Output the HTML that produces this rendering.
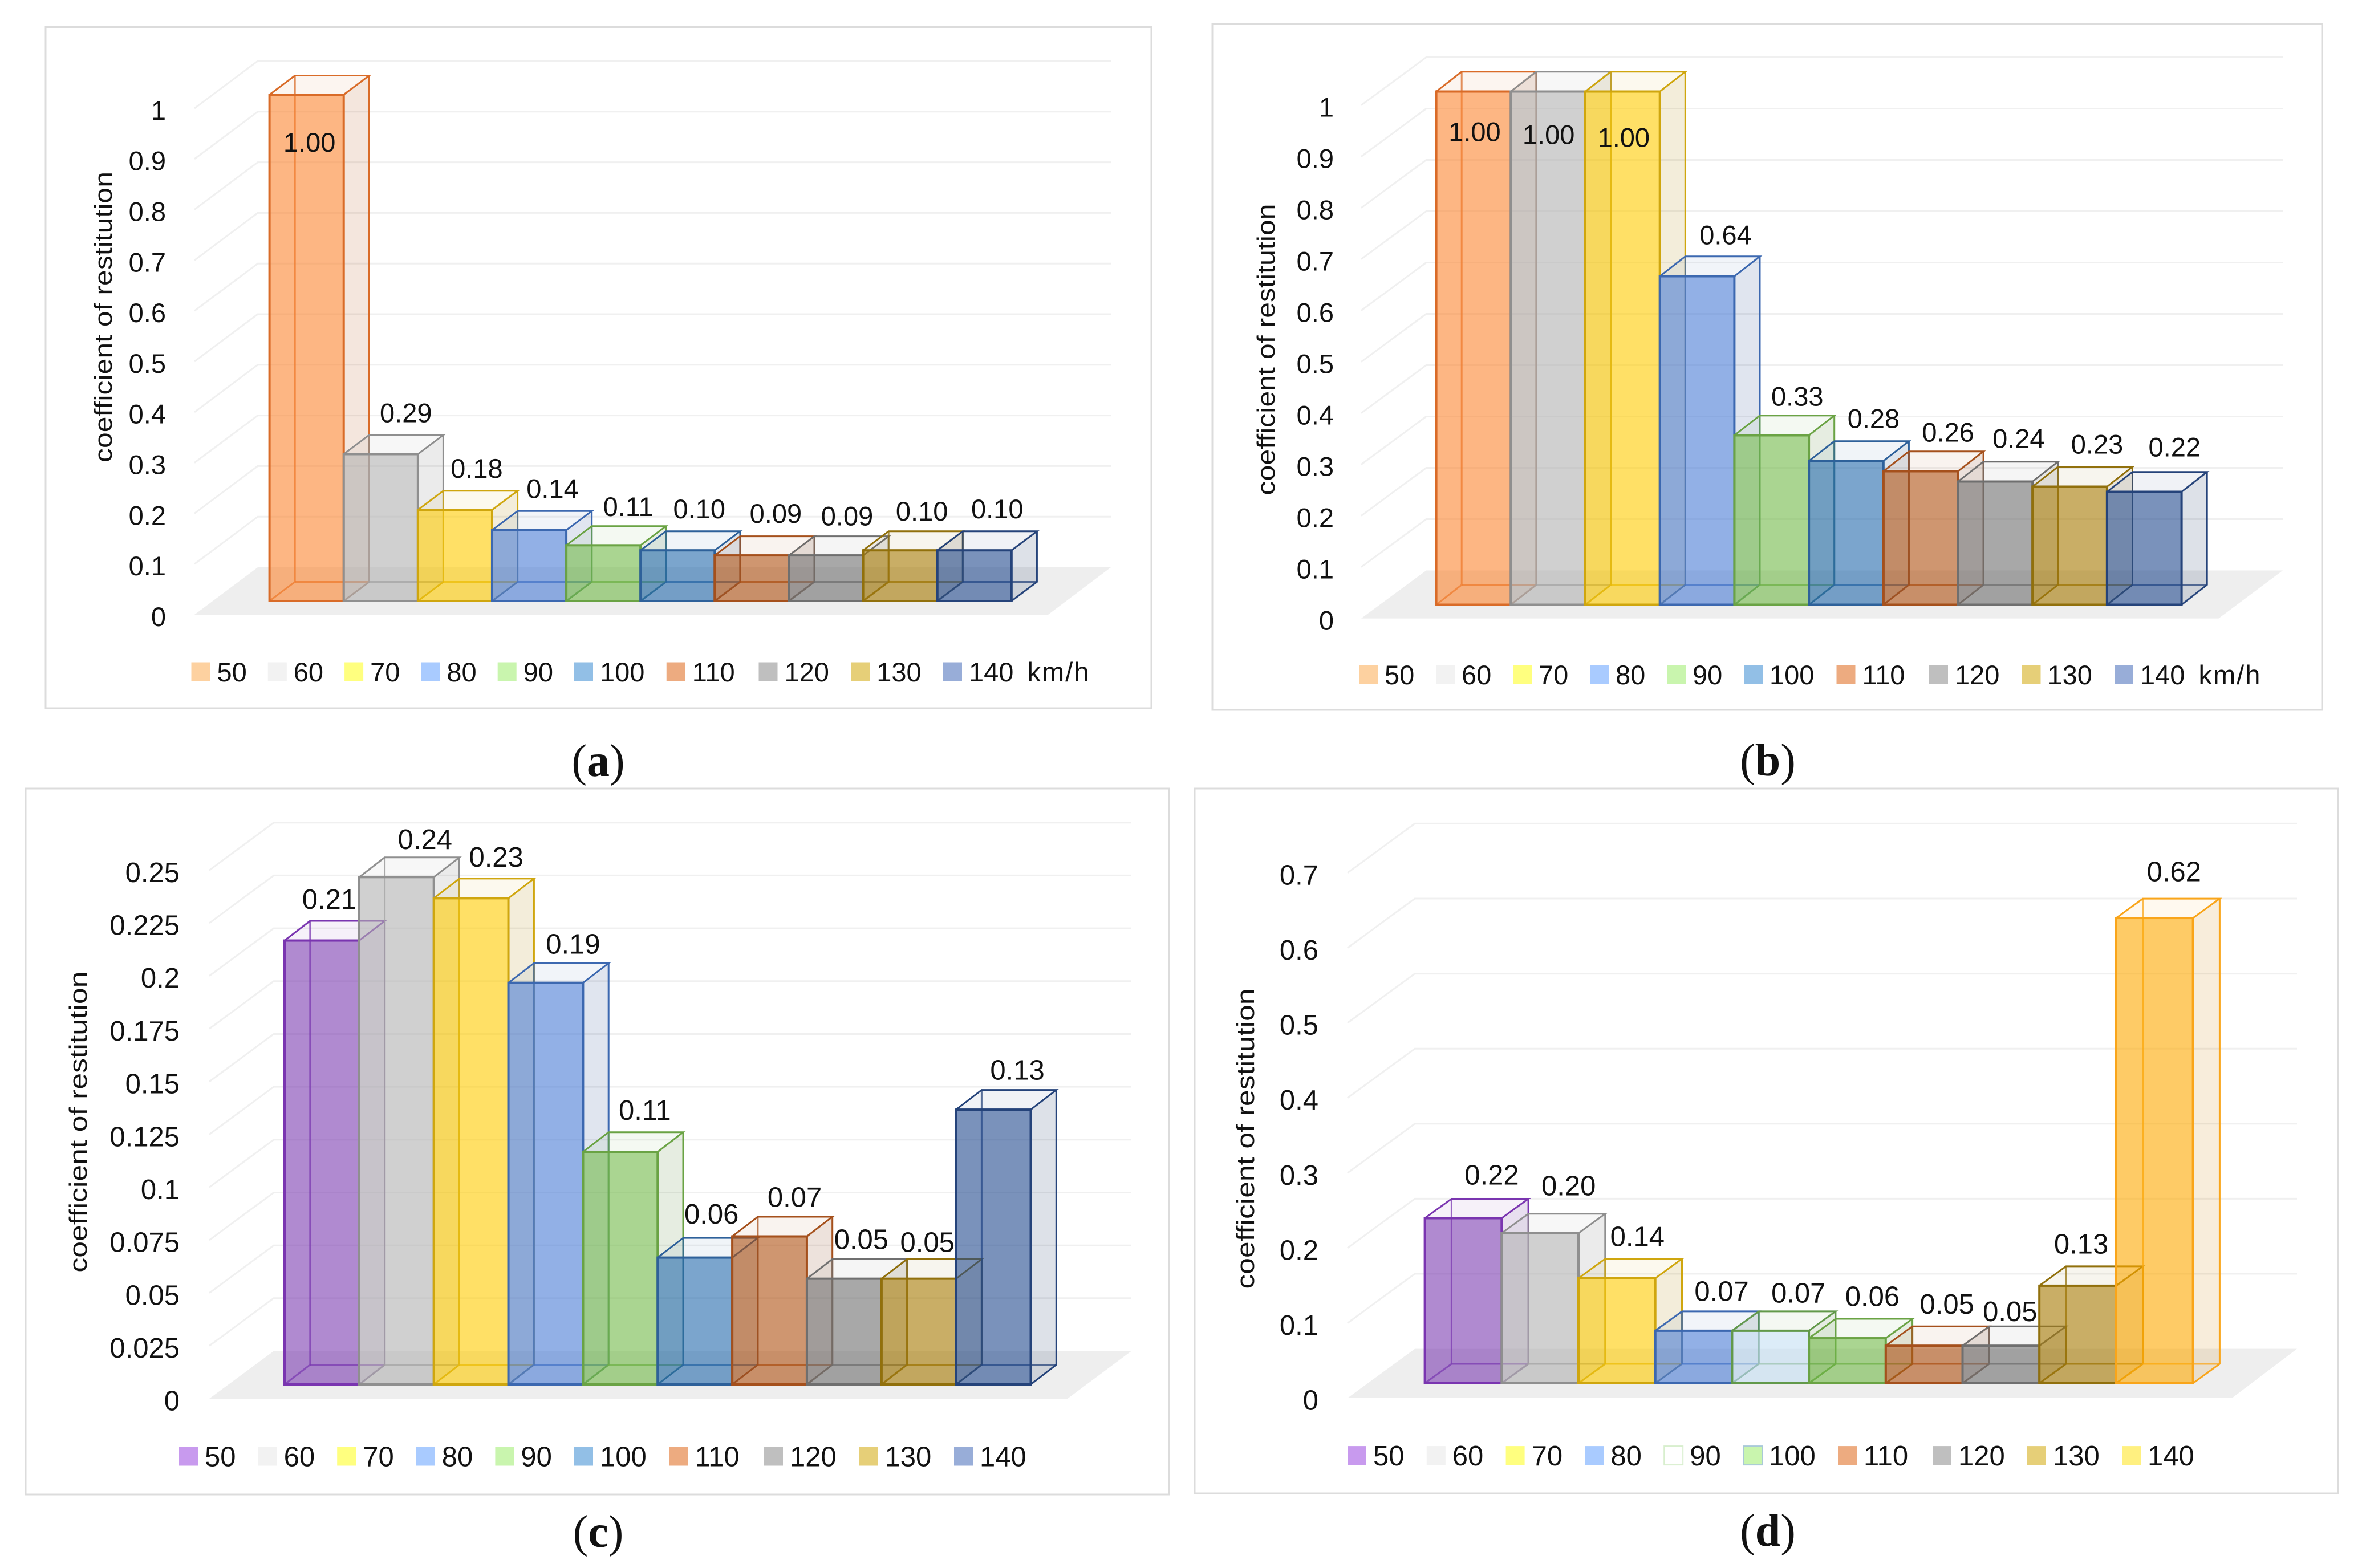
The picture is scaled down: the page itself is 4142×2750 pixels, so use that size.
<!DOCTYPE html>
<html lang="en">
<head>
<meta charset="utf-8">
<title>Coefficient of restitution by speed</title>
<style>
html,body{margin:0;padding:0;background:#fff;}
svg{display:block;}
text{font-family:"Liberation Sans",sans-serif;fill:#111;}
.cap,.cap tspan{font-family:"Liberation Serif",serif;}
</style>
</head>
<body>
<svg id="figure" xmlns="http://www.w3.org/2000/svg" width="4142" height="2750" viewBox="0 0 4142 2750"></svg>
<script>
const categories = ['50','60','70','80','90','100','110','120','130','140'];
const valuesA = [1.00,0.29,0.18,0.14,0.11,0.10,0.09,0.09,0.10,0.10];
const valuesB = [1.00,1.00,1.00,0.64,0.33,0.28,0.26,0.24,0.23,0.22];
const valuesC = [0.21,0.24,0.23,0.19,0.11,0.06,0.07,0.05,0.05,0.13];
const valuesD = [0.22,0.20,0.14,0.07,0.07,0.06,0.05,0.05,0.13,0.62];
const ticksAB = ['0','0.1','0.2','0.3','0.4','0.5','0.6','0.7','0.8','0.9','1'];
const ticksC = ['0','0.025','0.05','0.075','0.1','0.125','0.15','0.175','0.2','0.225','0.25'];
const ticksD = ['0','0.1','0.2','0.3','0.4','0.5','0.6','0.7'];
const valueLabelsA = ['1.00','0.29','0.18','0.14','0.11','0.10','0.09','0.09','0.10','0.10'];
const valueLabelsB = ['1.00','1.00','1.00','0.64','0.33','0.28','0.26','0.24','0.23','0.22'];
const valueLabelsC = ['0.21','0.24','0.23','0.19','0.11','0.06','0.07','0.05','0.05','0.13'];
const valueLabelsD = ['0.22','0.20','0.14','0.07','0.07','0.06','0.05','0.05','0.13','0.62'];

/* styling: front colour, edge colour, legend colour */
const C = {
  orange:['#fc8530','#d96b28','#fdd1a0'], gray:['#b1b1b1','#8f8f8f','#f2f2f2'],
  yellow:['#ffcb00','#cfa60e','#ffff7f'], blue:['#497bd5','#3c68b0','#a9cbff'],
  green:['#71b948','#6aa344','#c9f5ae'], steel:['#2369ac','#2e619a','#92bfe6'],
  rust:['#af5011','#a5501c','#edab80'], dgray:['#6e6e6e','#6f6f6f','#bfbfbf'],
  gold:['#a57800','#91700c','#e6cf78'], navy:['#21498e','#25437a','#98add8'],
  purple:['#7b3cb1','#7a35b0','#c89aee'], ice:['#c5dff3','#62994a','#ffffff'],
  amber:['#fea800','#f9a51a','#fff080'], dgreen:['#71b948','#6aa344','#c9f5ae']
};
const paletteAB = [C.orange,C.gray,C.yellow,C.blue,C.green,C.steel,C.rust,C.dgray,C.gold,C.navy];
const paletteC = [C.purple,C.gray,C.yellow,C.blue,C.green,C.steel,C.rust,C.dgray,C.gold,C.navy];
const paletteD = [C.purple,C.gray,C.yellow,C.blue,C.ice,C.dgreen,C.rust,C.dgray,C.gold,C.amber];

/* panel geometry and data-label nudges (layout only, offsets from each bar's computed top) */
const panels = [
 {id:'a',values:valuesA,labels:valueLabelsA,ticks:ticksAB,pal:paletteAB,box:[80,47.5,2019,1242],backL:452,backR:1948,frontL:341,frontR:1838,floorF:1078,floorB:995,base:1054,x0:472.6,w:130.12,dX:44.6,dY:33.5,unit:888,tickR:291,tx:181,ty:556,tl:510,lx:335.5,ls2:134.3,ls3:161.75,ly:1178,fs:47,cap:[1049,1336],suffix:true,
  ndx:[5,44,38,41,43.5,38,42,37,38,40],ndy:[83,-73,-73,-73,-68,-73,-74,-69.5,-69,-73]},
 {id:'b',values:valuesB,labels:valueLabelsB,ticks:ticksAB,pal:paletteAB,box:[2126,42,4072,1245],backL:2501,backR:4003,frontL:2387,frontR:3890.6,floorF:1084.6,floorB:1000.5,base:1060.5,x0:2518.6,w:130.7,dX:44.6,dY:34.8,unit:900,tickR:2339,tx:2220,ty:613,tl:511,lx:2383,ls2:135,ls3:162.5,ly:1183,fs:47,cap:[3100,1335],suffix:true,
  ndx:[2,1,2,50,45,48,48,41,48,53],ndy:[70,75,80,-73,-69,-75,-69,-76,-75,-79]},
 {id:'c',values:valuesC,labels:valueLabelsC,ticks:ticksC,pal:paletteC,box:[45,1383,2050,2621],backL:480,backR:1984,frontL:367,frontR:1872,floorF:2453,floorB:2369.5,base:2428,x0:499,w:130.85,dX:44.8,dY:34.5,unit:3707,tickR:315,tx:137,ty:1967.6,tl:528,lx:314,ls2:138.6,ls3:166.5,ly:2554,fs:49,cap:[1049,2688],suffix:false,
  ndx:[13,50,44,48,43,29,44,30,15,42],ndy:[-73,-67,-73,-69,-74,-77,-69.5,-70,-65,-70]},
 {id:'d',values:valuesD,labels:valueLabelsD,ticks:ticksD,pal:paletteD,box:[2095,1383,4100,2619],backL:2481,backR:4028,frontL:2363,frontR:3914,floorF:2452,floorB:2365.6,base:2426,x0:2498.6,w:134.7,dX:46.8,dY:34,unit:1316,tickR:2312,tx:2184,ty:1997,tl:527,lx:2363,ls2:138.8,ls3:166,ly:2552.6,fs:49,cap:[3100,2686],suffix:false,
  ndx:[50,50,36,49,49,44,40,16,6,34],ndy:[-76.5,-84,-74,-70,-67,-74,-74,-61,-74,-82]}
];

const NS = 'http://www.w3.org/2000/svg';
const root = document.getElementById('figure');
function mk(tag, attrs, parent, txt){
  const e = document.createElementNS(NS, tag);
  for (const k in attrs) e.setAttribute(k, attrs[k]);
  if (txt !== undefined) e.textContent = txt;
  parent.appendChild(e);
  return e;
}
function poly(pts){ return pts.map(p => p[0].toFixed(1)+','+p[1].toFixed(1)).join(' '); }

panels.forEach(p => {
  const yBar = v => p.base - v * p.unit;
  const yFront = v => p.floorF - v * p.unit;
  const yBack = v => p.floorB - v * p.unit;
  const xBar = i => p.x0 + i * p.w;

  const g = mk('g', {}, root);
  
  

  const b = p.box;
  const frame = mk('rect', {x:b[0],y:b[1],width:b[2]-b[0],height:b[3]-b[1],fill:'#fff',stroke:'#dcdcdc','stroke-width':3}, g);
  
  

  const floor = mk('polygon', {points:poly([[p.frontL,p.floorF],[p.backL,p.floorB],[p.backR,p.floorB],[p.frontR,p.floorF]]),fill:'#eeeeee'}, g);
  
  

  p.ticks.forEach(t => {
    const v = Number(t);
    if (v > 0) {
      const gl = mk('polyline', {points:poly([[p.frontL,yFront(v)],[p.backL,yBack(v)],[p.backR,yBack(v)]]),fill:'none',stroke:'#f0f0f0','stroke-width':3}, g);
      
      
    }
    const tl = mk('text', {x:p.tickR,y:yFront(v)+3+p.fs*0.36,'text-anchor':'end','font-size':p.fs}, g, t);
    
    
  });

  const title = mk('text', {transform:'translate('+p.tx+','+p.ty+') rotate(-90)','text-anchor':'middle',y:15,'font-size':44,textLength:p.tl,lengthAdjust:'spacingAndGlyphs'}, g, 'coefficient of restitution');
  
  

  p.values.forEach((v, i) => {
    const col = p.pal[i];
    const x = xBar(i), x2 = x + p.w, yb = p.base, yt = yBar(v);
    const dx = p.dX, dy = p.dY;
    const bar = mk('g', {}, g);
    
    

    // receding faces
    mk('polygon', {points:poly([[x2,yt],[x2+dx,yt-dy],[x2+dx,yb-dy],[x2,yb]]),fill:'#777','fill-opacity':.05}, bar);
    mk('polygon', {points:poly([[x2,yt],[x2+dx,yt-dy],[x2+dx,yb-dy],[x2,yb]]),fill:col[1],'fill-opacity':.13}, bar);
    mk('polygon', {points:poly([[x,yt],[x+dx,yt-dy],[x2+dx,yt-dy],[x2,yt]]),fill:col[1],'fill-opacity':.07}, bar);
    // hidden edges seen through the front
    mk('polyline', {points:poly([[x,yb],[x+dx,yb-dy],[x+dx,yt-dy]]),fill:'none',stroke:col[1],'stroke-width':3,'stroke-opacity':.75}, bar);
    mk('line', {x1:x+dx,y1:yb-dy,x2:x2+dx,y2:yb-dy,stroke:col[1],'stroke-width':3,'stroke-opacity':.75}, bar);
    // outer edges of the depth
    mk('polyline', {points:poly([[x,yt],[x+dx,yt-dy],[x2+dx,yt-dy],[x2,yt]]),fill:'none',stroke:col[1],'stroke-width':3}, bar);
    mk('polyline', {points:poly([[x2+dx,yt-dy],[x2+dx,yb-dy],[x2,yb]]),fill:'none',stroke:col[1],'stroke-width':3}, bar);
    // front face
    mk('rect', {x:x,y:yt,width:p.w,height:yb-yt,fill:col[0],'fill-opacity':.6,stroke:col[1],'stroke-width':4}, bar);
  });

  p.labels.forEach((t, i) => {
    const vl = mk('text', {x:xBar(i)+p.w/2+p.ndx[i],y:yBar(p.values[i])+p.ndy[i]+p.fs*0.36,'text-anchor':'middle','font-size':p.fs}, g, t);
    
    
  });

  let lx = p.lx;
  categories.forEach((c, i) => {
    const lg = mk('g', {}, g);
    
    
    const col = p.pal[i];
    const isIce = col === C.ice, isD100 = p.id === 'd' && c === '100';
    const sw = mk('rect', {x:lx,y:p.ly-16.5,width:33,height:33,fill:col[2],stroke:isIce?'#d8efce':(isD100?'#a9c9d8':'none'),'stroke-width':isIce||isD100?2:0}, lg);
    
    
    const lt = mk('text', {x:lx+45,y:p.ly+p.fs*0.36,'font-size':p.fs}, lg, c);
    
    
    if (p.suffix && i === categories.length - 1) {
      mk('tspan', {dx:9,'letter-spacing':2}, lt, ' km/h');
    }
    lx += c.length === 2 ? p.ls2 : p.ls3;
    if (c === '90') lx = p.lx + 5 * p.ls2;
  });

  const cap = mk('text', {x:p.cap[0],y:p.cap[1]+25,'text-anchor':'middle','font-size':80,class:'cap'}, g);
  
  
  mk('tspan', {}, cap, '(');
  mk('tspan', {'font-weight':'bold'}, cap, p.id);
  mk('tspan', {}, cap, ')');
});
</script>
</body>
</html>
